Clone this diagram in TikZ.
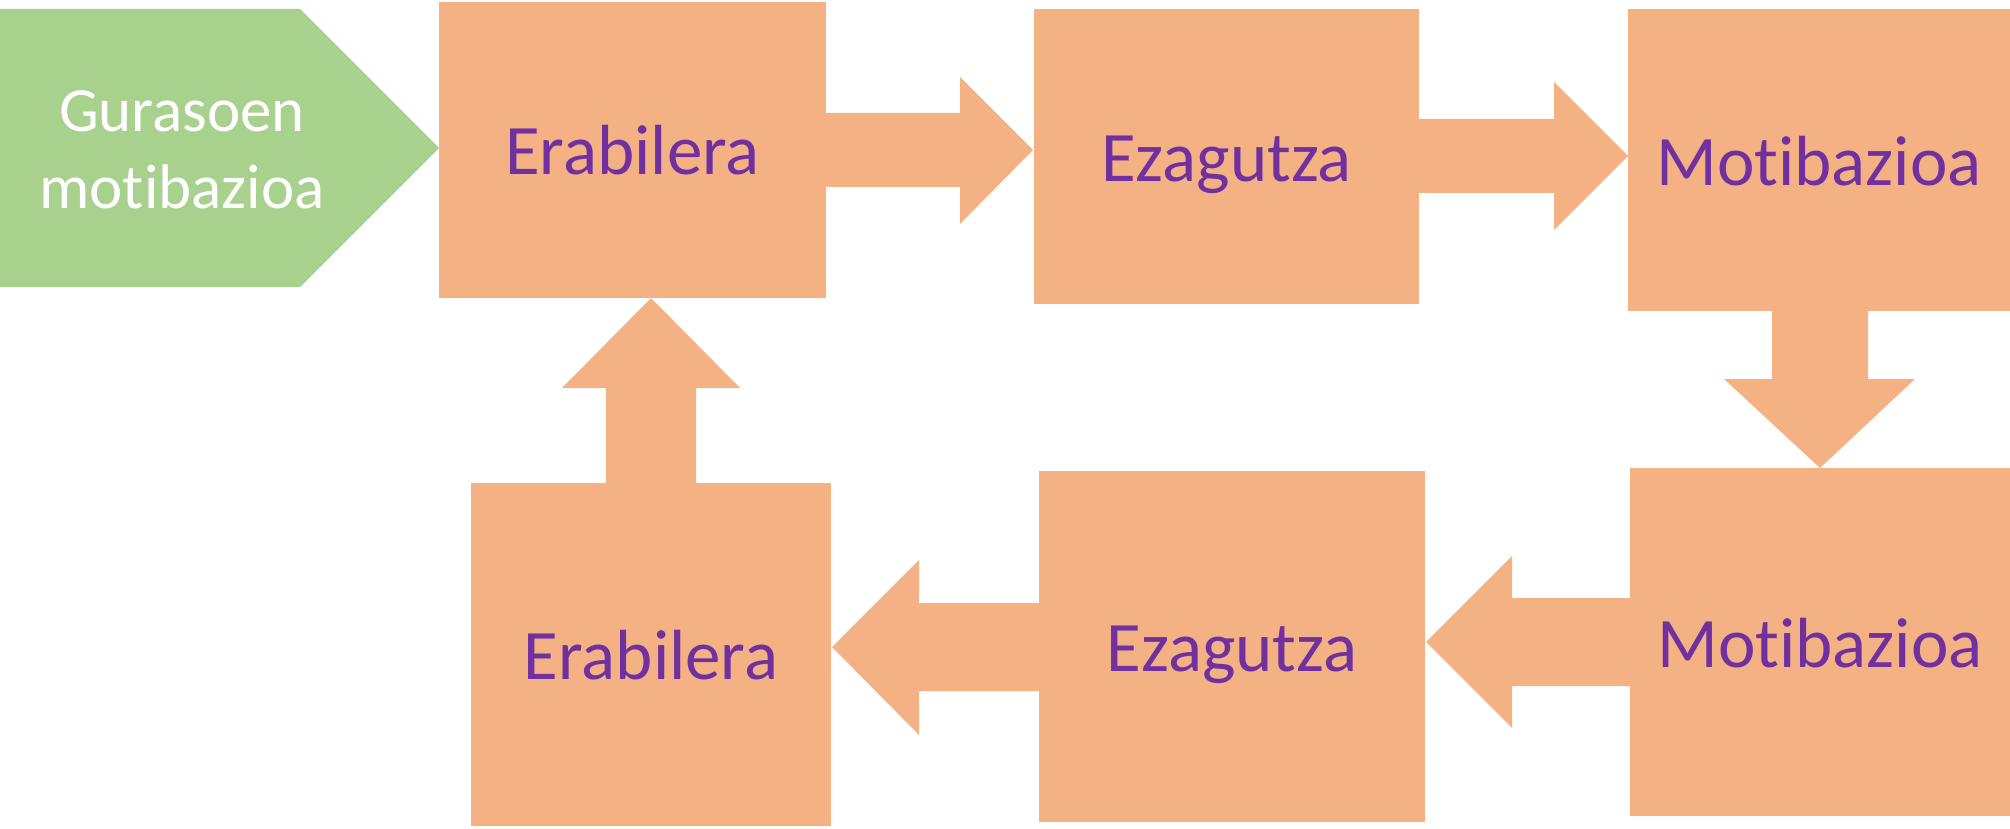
\documentclass[tikz,border=0pt]{standalone}
\usepackage{fontspec}
\setmainfont{Carlito}[Ligatures={NoCommon,NoRequired,NoContextual}]
\definecolor{boxfill}{HTML}{F4B183}
\definecolor{greenfill}{HTML}{A9D18E}
\definecolor{txtpurple}{HTML}{7030A0}
\begin{document}
\begin{tikzpicture}[x=0.5pt,y=-0.5pt,
  box/.style={fill=boxfill, draw=none, inner sep=0pt, outer sep=0pt, anchor=north west},
  blockarrow/.style={fill=boxfill, draw=none},
  lbl/.style={text=txtpurple, font=\fontsize{35.5}{42}\selectfont, anchor=base, inner sep=0pt},
  glbl/.style={text=white, font=\fontsize{31.5}{38}\selectfont, anchor=base, inner sep=0pt}]
\useasboundingbox (0,0) rectangle (2010,829);

% green start pentagon
\fill[greenfill] (0,9) -- (300,9) -- (439,148) -- (300,287) -- (0,287) -- cycle;
\node[glbl] (g1) at (182,132) {Gurasoen};
\node[glbl] (g2) at (182,209) {motibazioa};

% boxes
\node[box, minimum width=193.5pt, minimum height=148pt] (b1) at (439,2) {};
\node[box, minimum width=192.5pt, minimum height=147.5pt] (b2) at (1034,9) {};
\node[box, minimum width=191pt, minimum height=151pt] (b3) at (1628,9) {};
\node[box, minimum width=190pt, minimum height=174pt] (b4) at (1630,468) {};
\node[box, minimum width=193pt, minimum height=175.5pt] (b5) at (1039,471) {};
\node[box, minimum width=180pt, minimum height=171.5pt] (b6) at (471,483) {};

% labels
\node[lbl] (t1) at ([yshift=-12.5pt]b1.center) {Erabilera};
\node[lbl] (t2) at ([yshift=-12.5pt]b2.center) {Ezagutza};
\node[lbl] (t3) at ([yshift=-12.5pt]b3.center) {Motibazioa};
\node[lbl] (t4) at ([yshift=-12.5pt]b4.center) {Motibazioa};
\node[lbl] (t5) at ([yshift=-12.5pt]b5.center) {Ezagutza};
\node[lbl] (t6) at ([yshift=-12.5pt]b6.center) {Erabilera};

% block arrows
\fill[blockarrow] (826,113) -- (960,113) -- (960,77) -- (1033,150) -- (960,224) -- (960,187) -- (826,187) -- cycle;
\fill[blockarrow] (1419,119) -- (1554,119) -- (1554,82) -- (1628,156) -- (1554,230) -- (1554,193) -- (1419,193) -- cycle;
\fill[blockarrow] (1772,311) -- (1868,311) -- (1868,379) -- (1915,379) -- (1820,468) -- (1724,379) -- (1772,379) -- cycle;
\fill[blockarrow] (1630,598) -- (1512,598) -- (1512,556) -- (1426,642) -- (1512,728) -- (1512,686) -- (1630,686) -- cycle;
\fill[blockarrow] (1039,603) -- (919,603) -- (919,560) -- (832,647) -- (919,735) -- (919,691) -- (1039,691) -- cycle;
\fill[blockarrow] (606,483) -- (606,388) -- (562,388) -- (651,298) -- (740,388) -- (696,388) -- (696,483) -- cycle;
\end{tikzpicture}
\end{document}
